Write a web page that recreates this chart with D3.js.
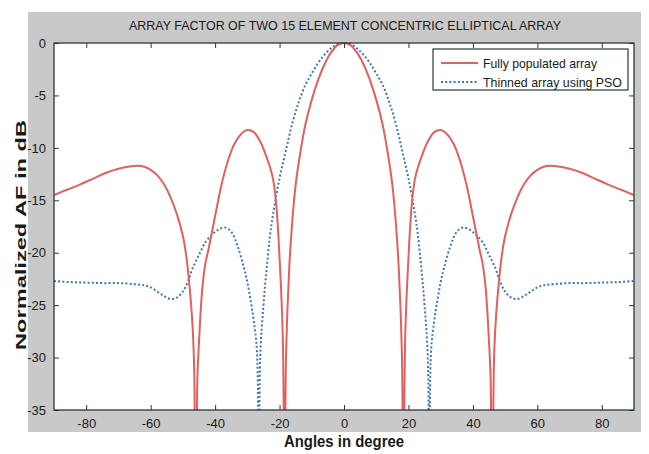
<!DOCTYPE html>
<html lang="en">

<head>
  <meta charset="UTF-8" />
  <title>Array Factor</title>
  <script src="https://d3js.org/d3.v7.min.js"></script>
  <style>
    body {
      margin: 0;
      background-color: #ffffff;
    }

    text {
      font-family: "Liberation Sans", Arial, sans-serif;
      fill: #1a1a1a;
    }

    .axis path,
    .axis line {
      stroke: #2b3a3a;
    }

    .frame {
      fill: none;
      stroke: #2b3a3a;
      stroke-width: 1.3px;
    }
  </style>
</head>

<body>
  <svg id="chart" width="649" height="454"></svg>

  <script>
    // values (angle in degree, AF in dB)
    const fullAngles = [
      -90, -86, -82, -78, -74, -70, -66, -64, -62, -60, -58, -56, -54, -52, -50, -49, -48, -47, -46.5, -46, -45.5,
      -45, -44, -43, -42, -40, -38, -36, -34, -32, -30, -28, -26, -24, -23, -22, -21, -20, -19, -18.4, -18, -17,
      -16, -15, -14, -12, -10, -8, -6, -4, -2, 0,
      2, 4, 6, 8, 10, 12, 14, 15, 16, 17, 18, 18.4, 19, 20, 21, 22, 23, 24, 26, 28, 30, 32, 34, 36, 38, 40, 42,
      43, 44, 45, 45.5, 46, 46.5, 47, 48, 49, 50, 52, 54, 56, 58, 60, 62, 64, 66, 70, 74, 78, 82, 86, 90
    ];
    const fullValues = [
      -14.5, -14.0, -13.5, -12.95, -12.4, -12.0, -11.75, -11.7, -11.8, -12.1, -12.6, -13.4, -14.6, -16.2, -18.4, -20.2,
      -23.0, -27.0, -31.0, -50, -32.0, -28.5, -23.5, -21.0, -19.6, -16.5, -13.5, -11.2, -9.6, -8.7, -8.3, -8.5, -9.4,
      -10.9, -11.8, -13.0, -15.5, -20.5, -28.0, -50, -30.0, -21.5, -16.8, -13.5, -11.3, -7.8, -5.4, -3.5, -2.0, -0.9,
      -0.2, 0,
      -0.2, -0.9, -2.0, -3.5, -5.4, -7.8, -11.3, -13.5, -16.8, -21.5, -30.0, -50, -28.0, -20.5, -15.5, -13.0, -11.8,
      -10.9, -9.4, -8.5, -8.3, -8.7, -9.6, -11.2, -13.5, -16.5, -19.6, -21.0, -23.5, -28.5, -32.0, -50, -31.0, -27.0,
      -23.0, -20.2, -18.4, -16.2, -14.6, -13.4, -12.6, -12.1, -11.8, -11.7, -11.75, -12.0, -12.4, -12.95, -13.5, -14.0,
      -14.5
    ];

    const thinAngles = [
      -90, -85, -80, -75, -70, -65, -62, -60, -58, -56, -54, -52, -50, -48.5, -47, -45, -43, -41, -39, -37, -35, -33,
      -31, -30, -29, -28, -27, -26.5, -26, -25, -24, -23, -22, -20, -18, -16, -14, -12, -10, -8, -6, -4, -2, 0,
      2, 4, 6, 8, 10, 12, 14, 16, 18, 20, 22, 23, 24, 25, 26, 26.5, 27, 28, 29, 30, 31, 33, 35, 37, 39, 41, 43, 45,
      47, 48.5, 50, 52, 54, 56, 58, 60, 62, 65, 70, 75, 80, 85, 90
    ];
    const thinValues = [
      -22.7, -22.8, -22.85, -22.9, -22.9, -23.0, -23.1, -23.3, -23.7, -24.1, -24.4, -24.3, -23.7, -22.8, -21.5, -20.2,
      -19.0, -18.3, -17.8, -17.6, -18.0, -19.4, -21.5, -22.8, -24.5, -26.5, -29.5, -50, -30.0, -25.0, -21.5, -18.5,
      -16.3, -12.9, -10.2, -7.6, -5.6, -4.0, -2.9, -1.9, -1.1, -0.5, -0.1, 0,
      -0.1, -0.5, -1.1, -1.9, -2.9, -4.0, -5.6, -7.6, -10.2, -12.9, -16.3, -18.5, -21.5, -25.0, -30.0, -50, -29.5,
      -26.5, -24.5, -22.8, -21.5, -19.4, -18.0, -17.6, -17.8, -18.3, -19.0, -20.2, -21.5, -22.8, -23.7, -24.3, -24.4,
      -24.1, -23.7, -23.3, -23.1, -23.0, -22.9, -22.9, -22.85, -22.8, -22.7
    ];

    const xTicks = [-80, -60, -40, -20, 0, 20, 40, 60, 80];
    const yTicks = [0, -5, -10, -15, -20, -25, -30, -35];
    const legendNames = ["Fully populated array", "Thinned array using PSO"];

    const svg = d3.select("#chart");
    const plot = { left: 54, right: 634, top: 43, bottom: 410 };

    // grey figure background
    svg.append("rect")
      .attr("x", 28).attr("y", 12)
      .attr("width", 613).attr("height", 420)
      .attr("fill", "#c9c9c9");

    svg.append("rect")
      .attr("x", plot.left).attr("y", plot.top)
      .attr("width", plot.right - plot.left).attr("height", plot.bottom - plot.top)
      .attr("fill", "#ffffff");

    const x = d3.scaleLinear().domain([-90, 90]).range([plot.left, plot.right]);
    const y = d3.scaleLinear().domain([-35, 0]).range([plot.bottom, plot.top]);

    svg.append("clipPath").attr("id", "clip")
      .append("rect")
      .attr("x", plot.left).attr("y", plot.top - 1)
      .attr("width", plot.right - plot.left).attr("height", plot.bottom - plot.top + 1);

    const line = d3.line()
      .x((d) => x(d[0]))
      .y((d) => y(d[1]))
      .curve(d3.curveCatmullRom.alpha(0.5));

    const g = svg.append("g").attr("clip-path", "url(#clip)");

    g.append("path")
      .datum(d3.zip(thinAngles, thinValues))
      .attr("fill", "none")
      .attr("stroke", "#3d73c4")
      .attr("stroke-width", 2)
      .attr("stroke-dasharray", "2,2.2")
      .attr("d", line);

    g.append("path")
      .datum(d3.zip(fullAngles, fullValues))
      .attr("fill", "none")
      .attr("stroke", "#e2605e")
      .attr("stroke-width", 2)
      .attr("d", line);

    // axes, with matlab style ticks pointing inwards on all sides
    const plain = (d) => String(d); // hyphen minus, like the original

    svg.append("g")
      .attr("class", "axis")
      .attr("transform", `translate(0,${plot.bottom})`)
      .call(d3.axisBottom(x).tickValues(xTicks).tickSize(-5).tickPadding(9).tickFormat(plain))
      .call((a) => a.select(".domain").remove())
      .selectAll("text").style("font-size", "13px");

    svg.append("g")
      .attr("class", "axis")
      .attr("transform", `translate(0,${plot.top})`)
      .call(d3.axisTop(x).tickValues(xTicks).tickSize(-5).tickFormat(""))
      .call((a) => a.select(".domain").remove());

    svg.append("g")
      .attr("class", "axis")
      .attr("transform", `translate(${plot.left},0)`)
      .call(d3.axisLeft(y).tickValues(yTicks).tickSize(-5).tickPadding(8).tickFormat(plain))
      .call((a) => a.select(".domain").remove())
      .selectAll("text").style("font-size", "13px");

    svg.append("g")
      .attr("class", "axis")
      .attr("transform", `translate(${plot.right},0)`)
      .call(d3.axisRight(y).tickValues(yTicks).tickSize(-5).tickFormat(""))
      .call((a) => a.select(".domain").remove());

    svg.append("rect")
      .attr("class", "frame")
      .attr("x", plot.left).attr("y", plot.top)
      .attr("width", plot.right - plot.left).attr("height", plot.bottom - plot.top);

    // titles
    svg.append("text")
      .attr("x", 345).attr("y", 30)
      .attr("text-anchor", "middle")
      .attr("textLength", 432)
      .attr("lengthAdjust", "spacingAndGlyphs")
      .style("font-size", "13px")
      .text("ARRAY FACTOR OF TWO 15 ELEMENT CONCENTRIC ELLIPTICAL ARRAY");

    svg.append("text")
      .attr("x", 344).attr("y", 447)
      .attr("text-anchor", "middle")
      .attr("textLength", 120)
      .attr("lengthAdjust", "spacingAndGlyphs")
      .style("font-size", "16px")
      .style("font-weight", "bold")
      .text("Angles in degree");

    svg.append("text")
      .attr("transform", "translate(26,235) rotate(-90)")
      .attr("text-anchor", "middle")
      .attr("textLength", 230)
      .attr("lengthAdjust", "spacingAndGlyphs")
      .style("font-size", "15px")
      .style("font-weight", "bold")
      .text("Normalized AF in dB");

    // legend
    const legend = svg.append("g");
    legend.append("rect")
      .attr("x", 433).attr("y", 49)
      .attr("width", 195).attr("height", 41)
      .attr("fill", "#ffffff")
      .attr("stroke", "#2b3a3a")
      .attr("stroke-width", 1.2);

    const legendStyles = [
      { color: "#e2605e", dash: null },
      { color: "#3d73c4", dash: "2,2.2" }
    ];
    legendNames.forEach((name, i) => {
      const ly = 63 + i * 19;
      legend.append("line")
        .attr("x1", 441).attr("x2", 478)
        .attr("y1", ly).attr("y2", ly)
        .attr("stroke", legendStyles[i].color)
        .attr("stroke-width", 2)
        .attr("stroke-dasharray", legendStyles[i].dash);
      legend.append("text")
        .attr("x", 483).attr("y", ly + 4.5)
        .attr("textLength", i === 0 ? 114 : 139)
        .attr("lengthAdjust", "spacingAndGlyphs")
        .style("font-size", "13px")
        .text(name);
    });
  </script>
</body>

</html>
